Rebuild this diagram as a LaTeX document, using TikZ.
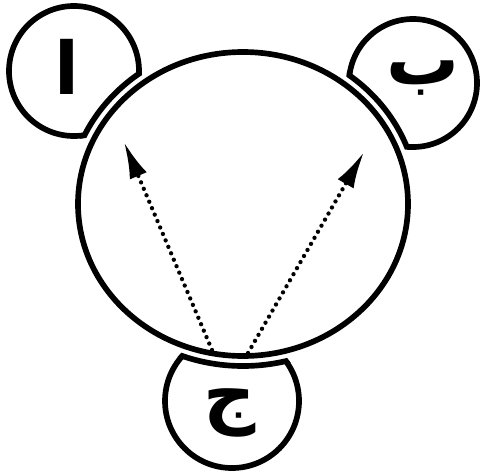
\documentclass[tikz,border=0pt]{standalone}
\usepackage{fontspec}
\newfontfamily\arabicfont[Script=Arabic]{DejaVu Sans}
\TeXXeTstate=1
\usetikzlibrary{arrows.meta}
\tikzset{
  borde/.style={draw=black,line width=0.17cm},
  flecha/.style={line width=0.13cm,line cap=round,dash pattern=on 0pt off 0.21cm,
    -{Latex[length=1.1cm,width=0.55cm]}},
  letra/.style={font=\arabicfont\bfseries\fontsize{62}{62}\selectfont,inner sep=0pt}
}
\newcommand{\harf}[1]{\beginR #1\endR}

\begin{document}
\begin{tikzpicture}[x=0.03cm,y=-0.03cm]
\useasboundingbox (0,0) rectangle (482,474);
\coordinate (o) at (243,204);
\coordinate (ca) at (74,71);
\coordinate (cb) at (413,83);
\coordinate (cj) at (232,401);
\draw[borde] (ca) circle (65);
\draw[borde] (cb) circle (64);
\draw[borde] (cj) circle (67);
\fill[white] (o) ellipse [x radius=175,y radius=162];
\begin{scope}
\clip (ca) circle (68) (cb) circle (67) (cj) circle (70);
\draw[borde] (o) ellipse [x radius=175,y radius=162];
\end{scope}
\draw[borde] (o) ellipse [x radius=165,y radius=152];
\node[letra] (la) at (67,67) {\harf{ا}};
\node[letra] (lb) at (423,78) {\harf{ب}};
\node[letra] (lj) at (230,413) {\harf{ج}};
\coordinate (s1) at (212,350);
\coordinate (t1) at (124,142);
\coordinate (s2) at (248,353);
\coordinate (t2) at (364,152);
\draw[flecha] (s1) -- (t1);
\draw[flecha] (s2) -- (t2);
\end{tikzpicture}
\end{document}
